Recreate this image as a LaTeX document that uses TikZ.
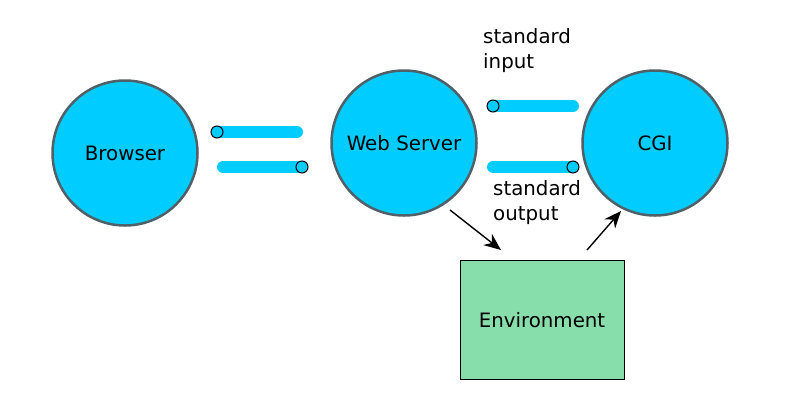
\documentclass[tikz,border=0pt]{standalone}
\usepackage{fontspec}
\setmainfont{DejaVu Sans}
\usetikzlibrary{arrows.meta}
\definecolor{pipecol}{RGB}{0,204,255}
\definecolor{envcol}{RGB}{135,222,170}
\definecolor{rimcol}{RGB}{80,96,104}
\tikzset{
	prog/.style={circle, draw=rimcol, line width=2.5pt, fill=pipecol, minimum size=145pt, inner sep=0pt},
	pipe/.style={pipecol, line width=12pt, line cap=round},
	plug/.style={circle, draw=black, fill=pipecol, line width=1pt, minimum size=12pt, inner sep=0pt},
	flow/.style={-{Stealth[length=17pt,width=14pt]}, line width=1.4pt},
	lbl/.style={align=left, anchor=north west, inner sep=0pt}
}
\begin{document}
\begin{tikzpicture}[x=1pt, y=-1pt, font=\fontsize{19.8}{25}\selectfont]
		\useasboundingbox (0,0) rectangle (800,400);
		
		\node[prog] (browser) at (125,153) {Browser};
		\node[prog] (web) at (404,143) {Web Server};
		\node[prog] (cgi) at (655,143) {CGI};
		\node[draw, fill=envcol, line width=1pt, minimum width=164pt, minimum height=119pt] (env) at (542,320) {Environment};
		
		% pipes browser <-> web server
		\coordinate (p1a) at (217,132); \coordinate (p1b) at (297,132);
		\coordinate (p2a) at (223,167); \coordinate (p2b) at (302,167);
		\draw[pipe] (p1a) -- (p1b); \node[plug] (p1) at (p1a) {};
		\draw[pipe] (p2a) -- (p2b); \node[plug] (p2) at (p2b) {};
		
		% pipes web server <-> cgi
		\coordinate (p3a) at (493,106); \coordinate (p3b) at (573,106);
		\coordinate (p4a) at (493,167); \coordinate (p4b) at (573,167);
		\draw[pipe] (p3a) -- (p3b); \node[plug] (p3) at (p3a) {};
		\draw[pipe] (p4a) -- (p4b); \node[plug] (p4) at (p4b) {};
		
		\node[lbl] (stdin) at (483,28) {standard\\input};
		\node[lbl] (stdout) at (493,180) {standard\\output};
		
		\coordinate (a1) at (450,210); \coordinate (a2) at (501,250);
		\coordinate (b1) at (587,250); \coordinate (b2) at (621,211);
		\draw[flow] (a1) -- (a2);
		\draw[flow] (b1) -- (b2);
\end{tikzpicture}
\end{document}
